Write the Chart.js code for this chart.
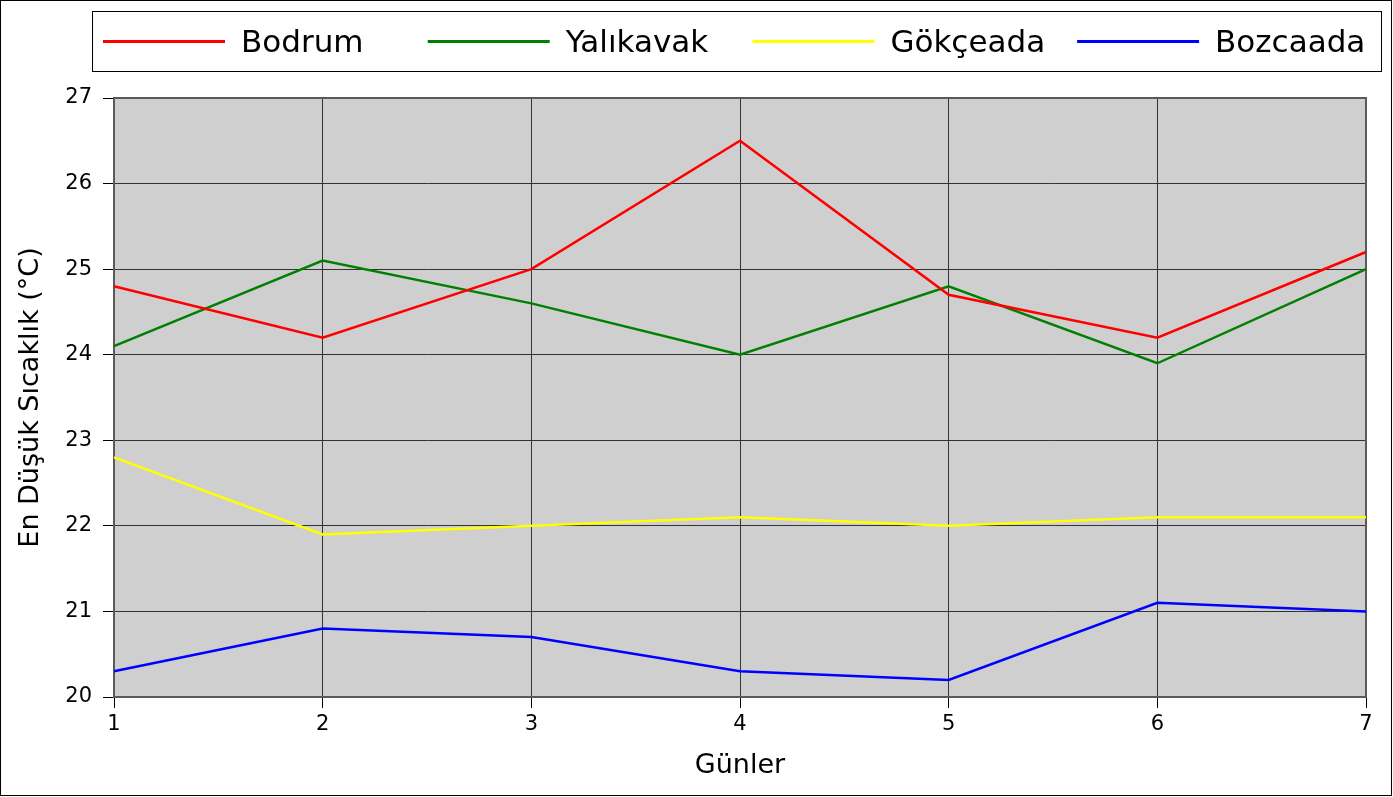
<!DOCTYPE html>
<html>
<head>
<meta charset="utf-8">
<script src="https://cdn.jsdelivr.net/npm/chart.js@4/dist/chart.umd.min.js"></script>
<style>
  body { margin: 0; background: #fff; }
  canvas { display: block; }
</style>
</head>
<body>
<canvas id="grafik" width="1393" height="797"></canvas>
<script>
// veriler
var gunler = ['1', '2', '3', '4', '5', '6', '7']
var bodrum = [24.8, 24.2, 25.0, 26.5, 24.7, 24.2, 25.2]
var yalikavak = [24.1, 25.1, 24.6, 24.0, 24.8, 23.9, 25.0]
var gokceada = [22.8, 21.9, 22.0, 22.1, 22.0, 22.1, 22.1]
var bozcaada = [20.3, 20.8, 20.7, 20.3, 20.2, 21.1, 21.0]
var yTikler = [20, 21, 22, 23, 24, 25, 26, 27]

var FONT = 'DejaVu Sans'

var seri = (ad, veri, renk) => ({
  label: ad,
  data: veri,
  borderColor: renk,
  backgroundColor: renk,
  borderWidth: 2.5,
  pointRadius: 0,
  tension: 0,
  fill: false
})

// arka plan, dis cerceve ve gri cizim alani
var arkaPlan = {
  id: 'arkaPlan',
  beforeDraw: (chart) => {
    var ctx = chart.ctx
    var a = chart.chartArea
    ctx.save()
    ctx.fillStyle = '#fff'
    ctx.fillRect(0, 0, chart.width, chart.height)
    ctx.strokeStyle = '#000'
    ctx.lineWidth = 1
    ctx.strokeRect(0.5, 0.5, chart.width - 2, chart.height - 2)
    ctx.fillStyle = '#cfcfcf'
    ctx.fillRect(a.left, a.top, a.right - a.left, a.bottom - a.top)
    ctx.restore()
  },
  beforeDatasetsDraw: (chart) => {
    var ctx = chart.ctx
    var a = chart.chartArea
    ctx.save()
    ctx.strokeStyle = '#5a5a5a'
    ctx.lineWidth = 2
    ctx.strokeRect(a.left, a.top, a.right - a.left, a.bottom - a.top)
    ctx.restore()
  }
}

// ustteki kutulu aciklama
var aciklama = {
  id: 'aciklama',
  afterDraw: (chart) => {
    var ctx = chart.ctx
    ctx.save()
    ctx.strokeStyle = '#000'
    ctx.lineWidth = 1
    ctx.strokeRect(92.5, 11.5, 1289, 60)
    ctx.font = '31px "' + FONT + '"'
    ctx.textBaseline = 'alphabetic'
    ctx.fillStyle = '#000'
    chart.data.datasets.forEach((ds, i) => {
      var x = 103 + i * 324.7
      ctx.strokeStyle = ds.borderColor
      ctx.lineWidth = 3
      ctx.beginPath()
      ctx.moveTo(x, 41.5)
      ctx.lineTo(x + 122, 41.5)
      ctx.stroke()
      ctx.fillText(ds.label, x + 138, 52)
    })
    ctx.restore()
  }
}

var grafik = () => {
  new Chart(document.getElementById('grafik'), {
    type: 'line',
    data: {
      labels: gunler,
      datasets: [
        seri('Bodrum', bodrum, '#ff0000'),
        seri('Yalıkavak', yalikavak, '#008000'),
        seri('Gökçeada', gokceada, '#ffff00'),
        seri('Bozcaada', bozcaada, '#0000ff')
      ]
    },
    options: {
      responsive: false,
      animation: false,
      devicePixelRatio: 1,
      layout: { padding: { top: 98, right: 27, bottom: 0, left: 0 } },
      plugins: {
        legend: { display: false },
        tooltip: { enabled: false }
      },
      scales: {
        x: {
          offset: false,
          afterFit: (s) => { s.height = 100 },
          grid: { color: '#333', lineWidth: 1, tickLength: 11, tickColor: '#000' },
          border: { display: true, color: '#444', width: 2 },
          ticks: { color: '#000', padding: 4, maxRotation: 0, font: { family: FONT, size: 21 } },
          title: { display: true, text: 'Günler', color: '#000', padding: { top: 0, bottom: 15 }, font: { family: FONT, size: 27 } }
        },
        y: {
          min: 20,
          max: 27,
          afterFit: (s) => { s.width = 114 },
          afterBuildTicks: (s) => { s.ticks = yTikler.map((v) => ({ value: v })) },
          grid: { color: '#333', lineWidth: 1, tickLength: 11, tickColor: '#000' },
          border: { display: true, color: '#444', width: 2 },
          ticks: { color: '#000', padding: 11, font: { family: FONT, size: 21 } },
          title: { display: true, text: 'En Düşük Sıcaklık (°C)', color: '#000', padding: { top: 15, bottom: 0 }, font: { family: FONT, size: 27 } }
        }
      }
    },
    plugins: [arkaPlan, aciklama]
  })
}
grafik()
</script>
</body>
</html>
